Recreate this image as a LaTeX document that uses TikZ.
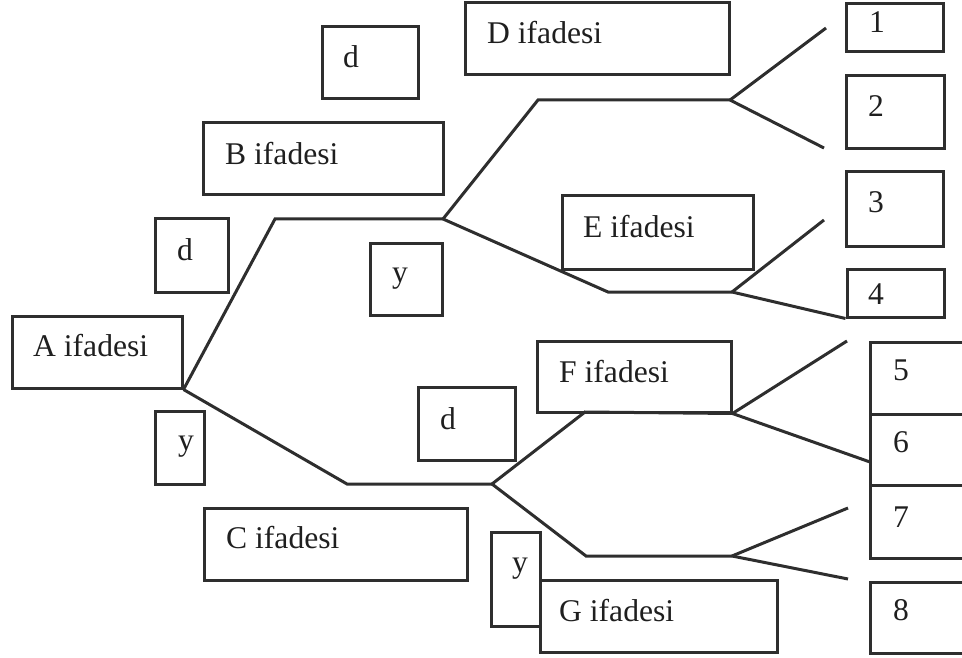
\documentclass[tikz,border=0pt]{standalone}
\usepackage{fontspec}
\setmainfont{Liberation Serif}
\usetikzlibrary{fit}
\begin{document}
\begin{tikzpicture}[x=1pt,y=-1pt,
  box/.style={draw=black!82, line width=3pt, inner sep=0pt, rectangle},
  txt/.style={anchor=base west, inner sep=0pt, text=black!88, font=\fontsize{31.6}{36}\selectfont},
  ln/.style={draw=black!82, line width=3pt, line join=miter}]
\useasboundingbox (0,0) rectangle (962,658);
% boxes
\node[box, fit={(12,316) (182,388)}] (A) {};
\node[box, fit={(155,219) (228,292)}] (dA) {};
\node[box, fit={(155,411) (204,484)}] (yA) {};
\node[box, fit={(203,123) (443,195)}] (B) {};
\node[box, fit={(322,27) (418,99)}] (dB) {};
\node[box, fit={(465,3) (729,75)}] (D) {};
\node[box, fit={(370,243) (442,315)}] (yB) {};
\node[box, fit={(562,196) (753,269)}] (E) {};
\node[box, fit={(418,387) (515,460)}] (dC) {};
\node[box, fit={(537,341) (731,412)}] (F) {};
\node[box, fit={(204,508) (467,580)}] (C) {};
\node[box, fit={(491,532) (540,626)}] (yC) {};
\node[box, fit={(540,580) (777,652)}] (G) {};
\node[box, fit={(846,4) (943,52)}] (b1) {};
\node[box, fit={(846,76) (944,149)}] (b2) {};
\node[box, fit={(846,172) (943,246)}] (b3) {};
\node[box, fit={(847,269) (944,317)}] (b4) {};
\node[box, fit={(870,342) (975,414)}] (b5) {};
\node[box, fit={(870,414) (975,485)}] (b6) {};
\node[box, fit={(870,485) (975,558)}] (b7) {};
\node[box, fit={(870,582) (975,653)}] (b8) {};
% texts
\node[txt] (tA) at (33,356) {A ifadesi};
\node[txt] (tdA) at (177,260) {d};
\node[txt] (tyA) at (178,450) {y};
\node[txt] (tB) at (225,165) {B ifadesi};
\node[txt] (tdB) at (343,68) {d};
\node[txt] (tD) at (487,44) {D ifadesi};
\node[txt] (tyB) at (392,282) {y};
\node[txt] (tE) at (583,237) {E ifadesi};
\node[txt] (tdC) at (440,429) {d};
\node[txt] (tF) at (559,382) {F ifadesi};
\node[txt] (tC) at (226,548) {C ifadesi};
\node[txt] (tyC) at (512,572) {y};
\node[txt] (tG) at (559,621) {G ifadesi};
\node[txt] (t1) at (869,33) {1};
\node[txt] (t2) at (868,117) {2};
\node[txt] (t3) at (868,213) {3};
\node[txt] (t4) at (868,304) {4};
\node[txt] (t5) at (893,380) {5};
\node[txt] (t6) at (893,452) {6};
\node[txt] (t7) at (893,527) {7};
\node[txt] (t8) at (893,620) {8};
% junction coordinates
\coordinate (c1) at (275,219);
\coordinate (jB) at (443,219);
\coordinate (c2) at (538,100);
\coordinate (jD) at (730,100);
\coordinate (e1) at (826,28);
\coordinate (e2) at (824,148);
\coordinate (c3) at (608,292);
\coordinate (jE) at (732,292);
\coordinate (e3) at (824,220);
\coordinate (c4) at (347,484);
\coordinate (jC) at (492,484);
\coordinate (c5) at (585,412);
\coordinate (e5) at (847,341);
\coordinate (e6) at (870,462);
\coordinate (c6) at (586,556);
\coordinate (jG) at (732,556);
\coordinate (e7) at (848,508);
\coordinate (e8) at (848,579);
% connectors
\draw[ln] (A.south east) -- (c1) -- (jB);
\draw[ln] (jB) -- (c2) -- (jD);
\draw[ln] (jD) -- (e1);
\draw[ln] (jD) -- (e2);
\draw[ln] (jB) -- (c3) -- (jE);
\draw[ln] (jE) -- (e3);
\draw[ln] (jE) -- (b4.south west);
\draw[ln] (A.south east) -- (c4) -- (jC);
\draw[ln] (jC) -- (c5) -- (F.south east);
\draw[ln] (F.south east) -- (e5);
\draw[ln] (F.south east) -- (e6);
\draw[ln] (jC) -- (c6) -- (jG);
\draw[ln] (jG) -- (e7);
\draw[ln] (jG) -- (e8);
\end{tikzpicture}
\end{document}
